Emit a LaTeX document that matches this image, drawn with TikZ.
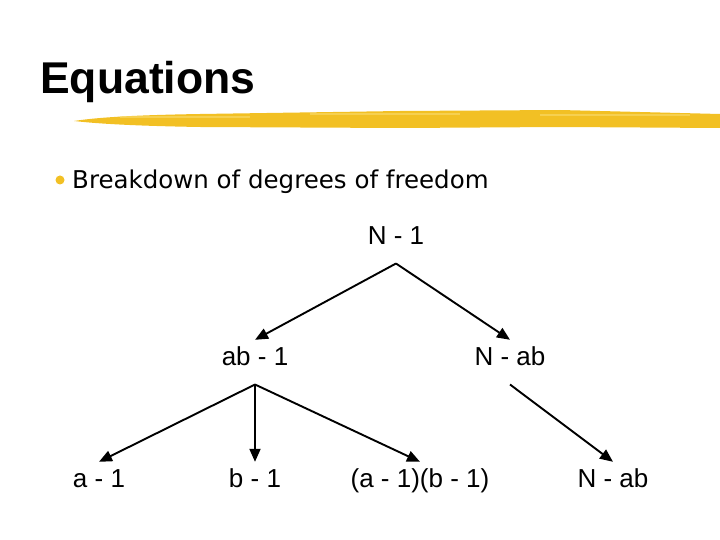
\documentclass[tikz,border=0pt]{standalone}
\usepackage{fontspec}
\setmainfont{Liberation Sans}
\newfontfamily\bulletfont{DejaVu Sans}
\usepackage{tikz}
\usetikzlibrary{arrows.meta}
\definecolor{brush}{RGB}{242, 192, 36}
\definecolor{brushlight}{RGB}{249, 220, 110}

\begin{document}
\begin{tikzpicture}[
   x=1pt, y=-1pt,
   dof/.style={font=\fontsize{26}{30}\selectfont, anchor=base, inner sep=0pt,
               outer ysep=18pt, text height=0.72em, text depth=0.15em},
   split/.style={-{Triangle[length=13pt, width=11pt]}, line width=1.9pt, color=black}
  ]

  \useasboundingbox (0, 0) rectangle (720, 540);

  % Title and brush stroke
  \node (title) at (40, 94) [anchor=base west, inner sep=0pt,
        font=\fontsize{44.5}{50}\selectfont\bfseries] {Equations};

  \fill[brush] (74, 121) .. controls (100, 117) and (140, 115) .. (200, 114)
     -- (400, 111) -- (560, 110) -- (720, 114) -- (720, 128) -- (560, 127)
     -- (400, 128) -- (200, 127) .. controls (140, 126) and (100, 124) .. (74, 121) -- cycle;
  \foreach \a/\b/\y in {120/250/117, 310/460/114, 540/690/115} {
    \draw[brushlight, line width=1.2pt, opacity=0.6] (\a, \y) -- (\b, \y);
  }

  % Bullet
  \fill[brush] (60, 180) circle (4.5);
  \node (item) at (72, 189) [anchor=base west, inner sep=0pt,
        font=\bulletfont\fontsize{24.5}{28}\selectfont] {Breakdown of degrees of freedom};

  % Tree
  \node (N1)   at (396, 244) [dof] {N - 1};
  \node (AB1)  at (255, 365) [dof] {ab - 1};
  \node (NAB)  at (510, 365) [dof] {N - ab};
  \node (A1)   at (99, 487)  [dof] {a - 1};
  \node (B1)   at (255, 487) [dof] {b - 1};
  \node (AxB)  at (420, 487) [dof] {(a - 1)(b - 1)};
  \node (NAB2) at (613, 487) [dof] {N - ab};

  \foreach \B/\E in {N1/AB1, N1/NAB, AB1/A1, AB1/B1, AB1/AxB, NAB/NAB2} {
    \draw[split] (\B.south) -- (\E.north);
  }

\end{tikzpicture}
\end{document}
